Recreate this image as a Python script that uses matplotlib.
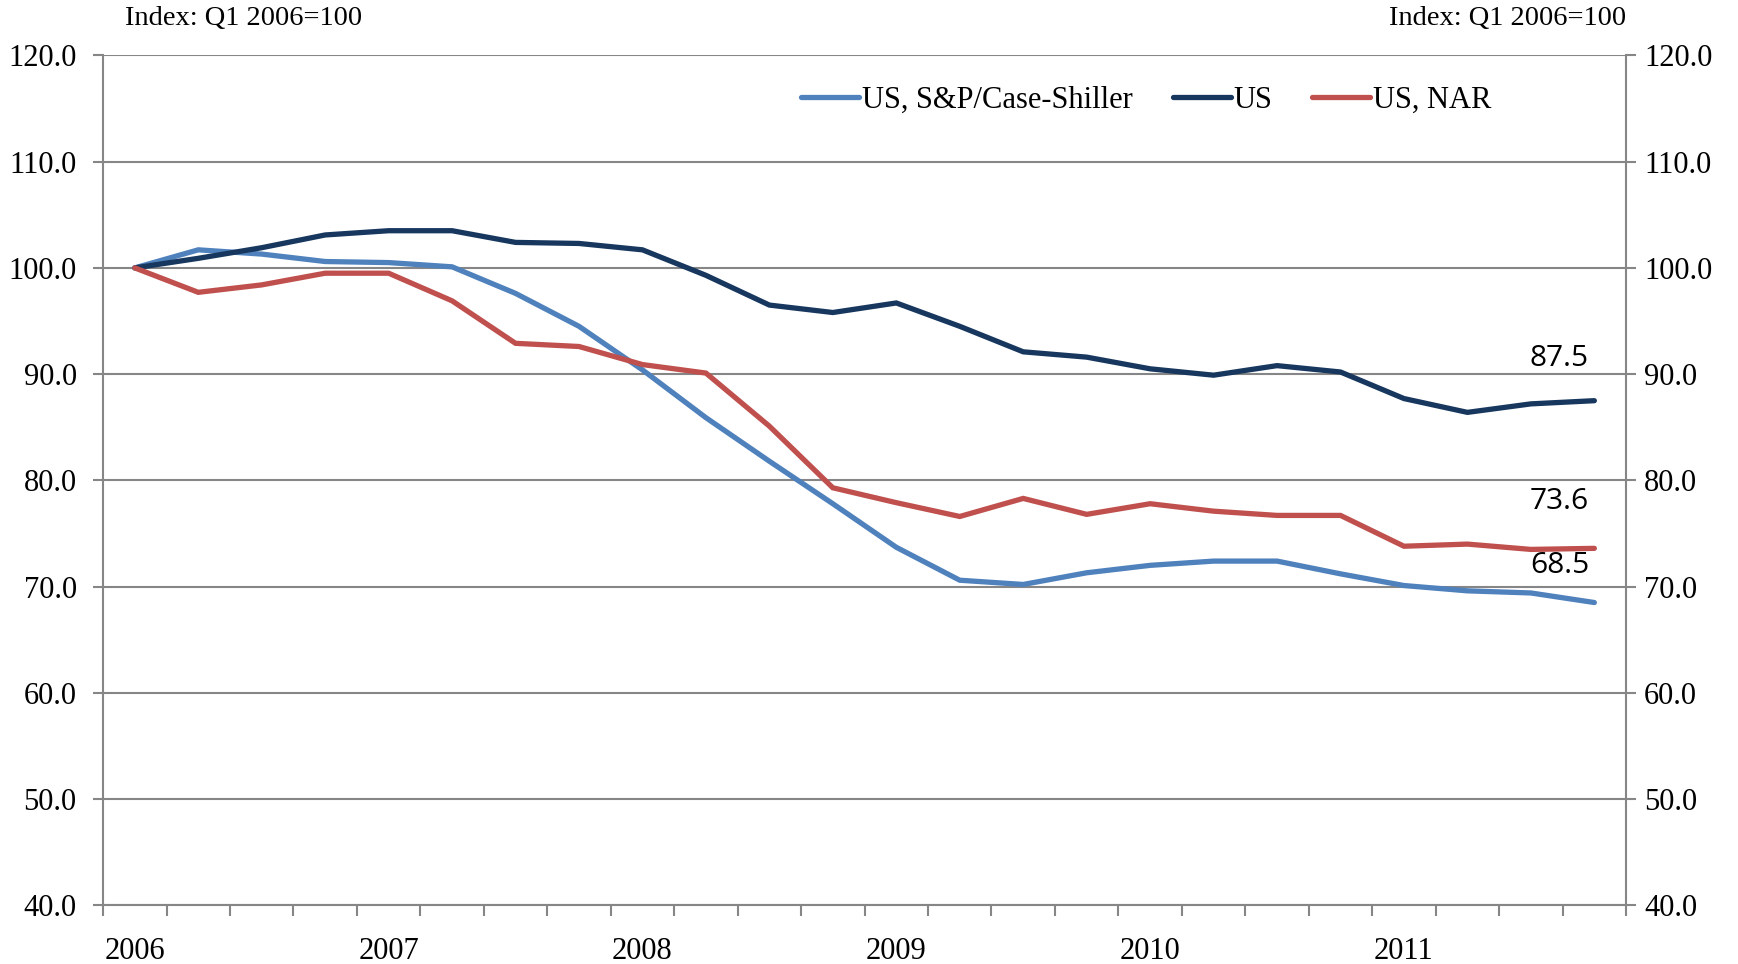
import numpy as np
import matplotlib
matplotlib.use('Agg')
from matplotlib import pyplot as plt

# quarterly index, Q1 2006 = 100
quarters = [f'{y} Q{q}' for y in range(2006, 2012) for q in range(1, 5)]
years = ['2006', '2007', '2008', '2009', '2010', '2011']

case_shiller = [100.0, 101.7, 101.3, 100.6, 100.5, 100.1, 97.6, 94.5,
                90.4, 85.9, 81.8, 77.8, 73.7, 70.6, 70.2, 71.3,
                72.0, 72.4, 72.4, 71.2, 70.1, 69.6, 69.4, 68.5]
us = [100.0, 100.9, 101.9, 103.1, 103.5, 103.5, 102.4, 102.3,
      101.7, 99.3, 96.5, 95.8, 96.7, 94.5, 92.1, 91.6,
      90.5, 89.9, 90.8, 90.2, 87.7, 86.4, 87.2, 87.5]
nar = [100.0, 97.7, 98.4, 99.5, 99.5, 96.9, 92.9, 92.6,
       90.9, 90.1, 85.1, 79.3, 77.9, 76.6, 78.3, 76.8,
       77.8, 77.1, 76.7, 76.7, 73.8, 74.0, 73.5, 73.6]

series_names = ['US, S&P/Case-Shiller', 'US', 'US, NAR']
colors = ['#4F81BD', '#17375E', '#C0504D']
end_labels = ['68.5', '87.5', '73.6']
label_offsets = [3.5, 4.0, 4.4]

GRID = '#868686'
SERIF = 'Liberation Serif'

fig = plt.figure(figsize=(17.38, 9.64), dpi=100)
ax = fig.add_axes([0.0593, 0.0609, 0.8763, 0.8816])

x = np.arange(len(quarters))
for vals, name, col, lab, off in zip([case_shiller, us, nar], series_names,
                                     colors, end_labels, label_offsets):
    ax.plot(x, vals, color=col, lw=3.8, label=name, solid_joinstyle='miter',
            solid_capstyle='round', zorder=3)
    ax.text(x[-1] - 0.55, vals[-1] + off, lab, fontsize=21.5, family='Open Sans',
            ha='center', va='center', color='black')

ax.set_xlim(-0.5, len(quarters) - 0.5)
ax.set_ylim(40, 120)
yt = np.arange(40, 121, 10)
ax.set_yticks(yt)
ax.set_yticklabels([f'{v:.1f}' for v in yt], fontsize=22, family=SERIF)
ax.yaxis.grid(True, color=GRID, lw=1.5)
ax.set_axisbelow(True)

ax.set_xticks(x[::4])
ax.set_xticklabels(years, fontsize=22, family=SERIF)
ax.set_xticks(np.arange(-0.5, len(quarters)), minor=True)
ax.tick_params(axis='x', which='major', length=0, pad=23)
ax.tick_params(axis='x', which='minor', length=8, width=1.5, color=GRID)
ax.tick_params(axis='y', length=7, width=1.5, color=GRID, pad=12)

for s in ['left', 'right', 'bottom']:
    ax.spines[s].set_color(GRID)
    ax.spines[s].set_linewidth(1.5)
ax.spines['top'].set_visible(False)

ax2 = ax.twinx()
ax2.set_ylim(40, 120)
ax2.set_yticks(yt)
ax2.set_yticklabels([f'{v:.1f}' for v in yt], fontsize=22, family=SERIF)
ax2.tick_params(axis='y', length=7, width=1.5, color=GRID, pad=6)
for s in ax2.spines.values():
    s.set_visible(False)

fig.text(0.072, 0.981, 'Index: Q1 2006=100', fontsize=20.5, family=SERIF,
         ha='left', va='center')
fig.text(0.9356, 0.981, 'Index: Q1 2006=100', fontsize=20.5, family=SERIF,
         ha='right', va='center')

leg = ax.legend(loc='center', bbox_to_anchor=(0.685, 0.947), ncol=3,
                frameon=False, prop={'family': SERIF, 'size': 22},
                handlelength=1.9, handletextpad=0.1, columnspacing=1.3)

fig.savefig('out.png', dpi=100, facecolor='white')
